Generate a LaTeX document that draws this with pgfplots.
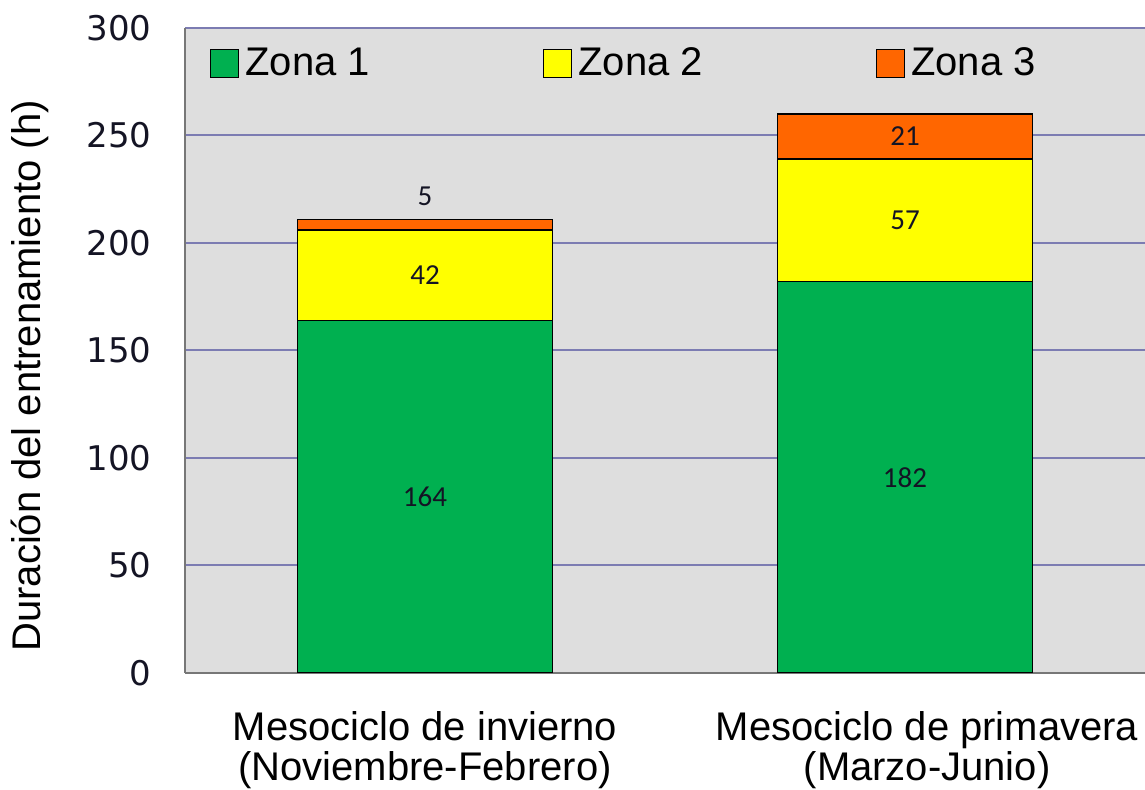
\documentclass[border=0pt]{standalone}
\usepackage{pgfplots}
\pgfplotsset{compat=1.18}
\usepackage{pgfplotstable}
\usepackage{fontspec}
\setmainfont{Liberation Sans}
\newfontfamily\tickfont{DejaVu Sans}
\newfontfamily\valfont{Carlito}

\definecolor{zgreen}{HTML}{00B050}
\definecolor{zyellow}{HTML}{FFFF00}
\definecolor{zorange}{HTML}{FF6600}
\definecolor{plotbg}{HTML}{DEDEDE}
\definecolor{gridc}{HTML}{7C7CB2}
\definecolor{axisc}{HTML}{777777}
\definecolor{numc}{HTML}{141424}

% Horas por zona de intensidad en cada mesociclo
\pgfplotstableread{
x  z1   z2  z3
0  164  42  5
1  182  57  21
}\horas

% Posicion de las etiquetas de valor (centro de cada tramo)
\pgfplotstableread{
x  y      lab
0  82     164
0  185    42
0  221.5  5
1  91     182
1  210.5  57
1  249.5  21
}\etiquetas

\pgfplotsset{
  zonebox/.style={legend image code/.code={
    \draw[##1, line width=0.7pt] (0pt,-7pt) rectangle (14pt,7pt);}},
  marco/.style={at={(0,0)}, anchor=south west,
    scale only axis, width=480pt, height=322.5pt,
    xmin=-0.5, xmax=1.5, ymin=0, ymax=300},
}

\begin{document}
\begin{tikzpicture}
\begin{axis}[
  marco,
  ybar stacked, bar width=127.5pt,
  xtick={0,1.046},
  xticklabels={{Mesociclo de invierno\\(Noviembre-Febrero)},{Mesociclo de primavera\\(Marzo-Junio)}},
  ytick={0,50,...,300},
  major tick length=0pt,
  axis lines*=left,
  axis line style={-, draw=axisc, line width=1.1pt},
  ymajorgrids, grid style={draw=gridc, line width=1pt},
  axis background/.style={fill=plotbg},
  /pgf/number format/assume math mode=true,
  yticklabel style={font=\tickfont\fontsize{17}{17}\selectfont, text=numc,
    anchor=east, inner sep=0pt, xshift=-16.5pt},
  xticklabel style={font=\fontsize{20}{20}\selectfont, align=center,
    anchor=north, inner sep=0pt, yshift=-19.2pt},
  ylabel={Duración del entrenamiento (h)},
  ylabel style={font=\fontsize{20}{24}\selectfont,
    at={(axis description cs:-0.1615,0.4605)}, anchor=center},
  legend columns=3,
  legend cell align=left,
  legend style={at={(axis description cs:0,1)}, anchor=north west,
    xshift=12.5pt, yshift=-10pt, draw=none, fill=none,
    inner sep=0pt, outer sep=0pt, font=\fontsize{20}{24}\selectfont,
    nodes={inner sep=0pt},
    /tikz/every odd column/.append style={column sep=3pt},
    /tikz/every even column/.append style={column sep=86.5pt}},
]
\addplot[fill=zgreen, draw=black, line width=0.8pt, zonebox]
  table[x=x, y=z1] {\horas};
\addlegendentry{Zona 1}
\addplot[fill=zyellow, draw=black, line width=0.8pt, zonebox]
  table[x=x, y=z2] {\horas};
\addlegendentry{Zona 2}
\addplot[fill=zorange, draw=black, line width=0.8pt, zonebox]
  table[x=x, y=z3] {\horas};
\addlegendentry{Zona 3}
\end{axis}

% Etiquetas con el valor de cada tramo, sobre los mismos ejes
\begin{axis}[marco, hide axis]
\addplot[only marks, mark=*, mark size=0pt,
  mark options={draw=none, fill=none},
  nodes near coords, point meta=explicit symbolic,
  nodes near coords style={font=\valfont\fontsize{14.5}{14.5}\selectfont,
    text=numc, anchor=center, inner sep=0pt}]
  table[x=x, y=y, meta=lab] {\etiquetas};
\end{axis}
\pgfresetboundingbox
\useasboundingbox (-92.5pt,-58.5pt) rectangle (480pt,336.5pt);
\end{tikzpicture}
\end{document}
